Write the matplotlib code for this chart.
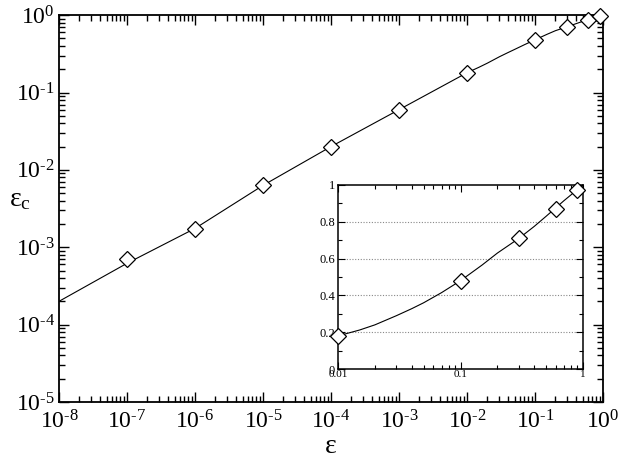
import numpy as np
import matplotlib
matplotlib.use("Agg")
import matplotlib.pyplot as plt
from matplotlib.ticker import LogLocator, FuncFormatter, MultipleLocator, NullFormatter

plt.rcParams["font.family"] = ["Liberation Serif", "DejaVu Serif"]
plt.rcParams["mathtext.fontset"] = "custom"
plt.rcParams["mathtext.rm"] = "Liberation Serif"
plt.rcParams["mathtext.it"] = "Liberation Serif:italic"

# marker data
eps_pts = [1e-7, 1e-6, 1e-5, 1e-4, 1e-3, 1e-2, 0.1, 0.3, 0.6, 0.9]
epsc_pts = [7.0e-4, 1.73e-3, 6.3e-3, 0.020, 0.060, 0.18, 0.48, 0.71, 0.87, 0.975]

# smooth curve
eps_curve = [1e-8, 1e-7, 1e-6, 1e-5, 1e-4, 1e-3, 0.01, 0.015, 0.02, 0.03,
             0.04, 0.05, 0.07, 0.1, 0.15, 0.2, 0.3, 0.4, 0.5, 0.7, 1.0]
epsc_curve = [2.0e-4, 6.2e-4, 1.75e-3, 6.3e-3, 0.020, 0.060, 0.18, 0.212,
              0.24, 0.29, 0.328, 0.36, 0.415, 0.48, 0.565, 0.63, 0.71,
              0.775, 0.83, 0.915, 1.0]


def pow_label(v, pos):
    if v <= 0:
        return ""
    return r"$10^{\text{%d}}$" % int(round(np.log10(v)))


def main():
    fig = plt.figure(figsize=(6.21, 4.59), dpi=100)
    ax = fig.add_axes([0.095, 0.1242, 0.876, 0.8428])

    ax.plot(eps_curve, epsc_curve, color="black", lw=0.8)
    ax.plot(eps_pts, epsc_pts, ls="none", marker="D", ms=8, mfc="white",
            mec="black", mew=0.9, clip_on=False, zorder=3)
    ax.set_xscale("log")
    ax.set_yscale("log")
    ax.set_xlim(1e-8, 1)
    ax.set_ylim(1e-5, 1)

    ax.xaxis.set_major_locator(LogLocator(base=10, numticks=20))
    ax.yaxis.set_major_locator(LogLocator(base=10, numticks=20))
    ax.xaxis.set_minor_locator(LogLocator(base=10, subs=np.arange(2, 10), numticks=20))
    ax.yaxis.set_minor_locator(LogLocator(base=10, subs=np.arange(2, 10), numticks=20))
    ax.xaxis.set_major_formatter(FuncFormatter(pow_label))
    ax.yaxis.set_major_formatter(FuncFormatter(pow_label))
    ax.xaxis.set_minor_formatter(NullFormatter())
    ax.yaxis.set_minor_formatter(NullFormatter())
    ax.tick_params(which="both", direction="in", top=True, right=True,
                   labelsize=17, width=1.0)
    ax.tick_params(which="major", length=7)
    ax.tick_params(which="minor", length=4)
    ax.tick_params(axis="x", pad=6)
    ax.tick_params(axis="y", pad=3)
    for s in ax.spines.values():
        s.set_linewidth(1.3)

    ax.set_xlabel("ε", fontsize=20, labelpad=0)
    ax.set_ylabel(r"$\mathrm{ε_c}$", fontsize=20, rotation=0, labelpad=2)
    ax.yaxis.set_label_coords(-0.072, 0.49)

    # inset
    ins = fig.add_axes([0.5443, 0.196, 0.3945, 0.401])
    sel = [i for i, e in enumerate(eps_pts) if e >= 0.01]
    ins.plot(eps_curve, epsc_curve, color="black", lw=0.8)
    ins.plot([eps_pts[i] for i in sel], [epsc_pts[i] for i in sel], ls="none",
             marker="D", ms=8, mfc="white", mec="black", mew=0.9,
             clip_on=False, zorder=3)
    ins.set_xscale("log")
    ins.set_xlim(0.01, 1)
    ins.set_ylim(0, 1)
    ins.xaxis.set_major_formatter(FuncFormatter(lambda v, p: ("%g" % v)))
    ins.xaxis.set_minor_formatter(NullFormatter())
    ins.yaxis.set_major_locator(MultipleLocator(0.2))
    ins.yaxis.set_minor_locator(MultipleLocator(0.1))
    ins.yaxis.set_major_formatter(FuncFormatter(lambda v, p: ("%g" % round(v, 1))))
    for y in [0.2, 0.4, 0.6, 0.8]:
        ins.axhline(y, color="#888888", ls=(0, (1, 1.5)), lw=0.8, zorder=0)
    ins.tick_params(which="both", direction="in", top=True, right=True,
                    width=0.8)
    ins.tick_params(axis="x", labelsize=8, pad=1)
    ins.tick_params(axis="y", labelsize=9, pad=2)
    ins.tick_params(which="major", length=5)
    ins.tick_params(which="minor", length=3)
    for s in ins.spines.values():
        s.set_linewidth(1.1)

    fig.savefig("out.png", dpi=100)


if __name__ == "__main__":
    main()
